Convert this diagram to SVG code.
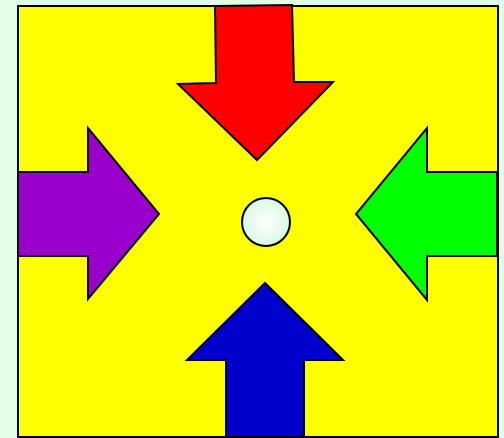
<svg xmlns="http://www.w3.org/2000/svg" width="504" height="438" viewBox="0 0 504 438">
<defs>
<radialGradient id="g" cx="0.5" cy="0.5" r="0.5">
<stop offset="0" stop-color="#ffffff"/>
<stop offset="1" stop-color="#d8f8e4"/>
</radialGradient>
<style>
.a{stroke:#000;stroke-width:2;stroke-linejoin:miter}
</style>
</defs>
<rect x="0" y="0" width="504" height="438" fill="#e0ffe6"/>
<g id="board"><rect x="18" y="6" width="480" height="431" fill="#ffff00" stroke="#000" stroke-width="2"/></g>
<g id="red"><polygon class="a" fill="#ff0000" points="215,6 292,5 294,82 333,82 257,160 178,84 216,83"/></g>
<g id="purple"><polygon class="a" fill="#9900cc" points="18,172 88,172 88,128 159,214 88,299 88,256 18,256"/></g>
<g id="green"><polygon class="a" fill="#00ff00" points="497,172 427,172 427,128 356,214 427,300 427,256 497,256"/></g>
<g id="blue"><polygon class="a" fill="#0000cc" points="226,437 226,360 187,360 265,283 343,360 304,360 304,437"/></g>
<g id="ball"><circle cx="266" cy="222" r="24" fill="url(#g)" stroke="#000" stroke-width="2"/></g>
<g id="connectors"/>
</svg>
